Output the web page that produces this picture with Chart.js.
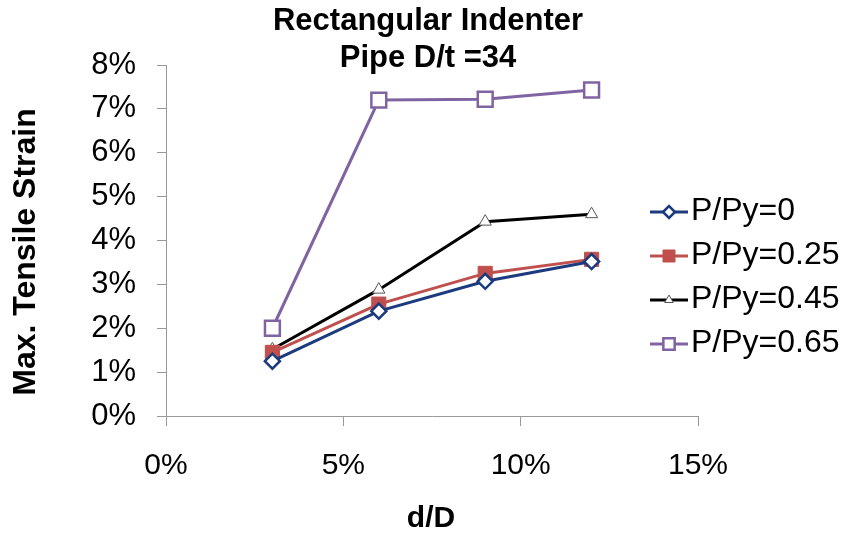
<!DOCTYPE html>
<html>
<head>
<meta charset="utf-8">
<script src="https://cdn.jsdelivr.net/npm/chart.js@4/dist/chart.umd.min.js"></script>
<style>
  html, body { margin: 0; padding: 0; background: #fff; }
  #wrap { width: 854px; height: 537px; position: relative; }
</style>
</head>
<body>
<div id="wrap"><canvas id="chart"></canvas></div>
<script>
const dOverD = [0.03, 0.06, 0.09, 0.12];
const seriesNames = ['P/Py=0', 'P/Py=0.25', 'P/Py=0.45', 'P/Py=0.65'];
const strain0 = [0.0125, 0.0239, 0.0307, 0.0352];
const strain025 = [0.0145, 0.0255, 0.0325, 0.0357];
const strain045 = [0.0152, 0.0288, 0.0443, 0.0460];
const strain065 = [0.0200, 0.0720, 0.0722, 0.0743];
const titleLines = ['Rectangular Indenter', 'Pipe D/t =34'];
const xTitle = 'd/D';
const yTitle = 'Max. Tensile Strain';

const FONT = '"Liberation Sans", Arial, sans-serif';

const styles = [
  { color: '#1c3a7e', fill: '#ffffff', shape: 'rectRot', r: 7.5, lr: 6, bw: 2.5 },
  { color: '#c0504d', fill: '#c0504d', shape: 'rect', r: 10, lr: 8.5, bw: 1 },
  { color: '#000000', fill: '#ffffff', shape: 'triangle', r: 7, lr: 5, bw: 1, pointBorder: '#555' },
  { color: '#8064a2', fill: '#ffffff', shape: 'rect', r: 10.5, lr: 8, bw: 2.5 }
];
const allStrains = [strain0, strain025, strain045, strain065];

const datasets = allStrains.map((vals, i) => {
  const s = styles[i];
  return {
    label: seriesNames[i],
    data: vals.map((v, j) => ({ x: dOverD[j], y: v })),
    borderColor: s.color,
    borderWidth: 3,
    pointStyle: s.shape,
    pointRadius: s.r,
    pointBackgroundColor: s.fill,
    pointBorderColor: s.pointBorder || s.color,
    pointBorderWidth: s.bw,
    tension: 0
  };
});

// chart title, axis titles and legend are painted by hand
const decorations = {
  id: 'decorations',
  afterDraw(chart) {
    const ctx = chart.ctx;
    ctx.save();
    ctx.fillStyle = '#000';
    ctx.textAlign = 'center';
    ctx.textBaseline = 'middle';
    ctx.font = 'bold 31px ' + FONT;
    ctx.fillText(titleLines[0], 428, 21);
    ctx.fillText(titleLines[1], 428, 58);

    ctx.font = 'bold 30px ' + FONT;
    ctx.fillText(xTitle, 431, 519);

    ctx.save();
    ctx.translate(26, 252);
    ctx.rotate(-Math.PI / 2);
    ctx.font = 'bold 32px ' + FONT;
    ctx.fillText(yTitle, 0, 0);
    ctx.restore();

    ctx.font = '32px ' + FONT;
    ctx.textAlign = 'left';
    seriesNames.forEach((name, i) => {
      const s = styles[i];
      const y = 212 + i * 44;
      ctx.strokeStyle = s.color;
      ctx.lineWidth = 3;
      ctx.beginPath();
      ctx.moveTo(650, y);
      ctx.lineTo(688, y);
      ctx.stroke();
      ctx.fillStyle = s.fill;
      ctx.strokeStyle = s.pointBorder || s.color;
      ctx.lineWidth = s.bw;
      Chart.helpers.drawPoint(ctx, { pointStyle: s.shape, radius: s.lr, rotation: 0, borderWidth: s.bw }, 669, y);
      ctx.fillStyle = '#000';
      ctx.fillText(name, 691, y - 1);
    });
    ctx.restore();
  }
};

const tickFont = { family: FONT, size: 30 };

new Chart(document.getElementById('chart'), {
  type: 'line',
  data: { datasets },
  options: {
    responsive: true,
    maintainAspectRatio: false,
    animation: false,
    layout: { padding: { left: 0, right: 156, top: 65, bottom: 0 } },
    plugins: { legend: { display: false }, title: { display: false }, tooltip: { enabled: false } },
    scales: {
      x: {
        type: 'linear',
        min: 0,
        max: 0.15,
        ticks: {
          stepSize: 0.05,
          color: '#000',
          font: tickFont,
          padding: 22,
          callback: v => Math.round(v * 100) + '%'
        },
        grid: { drawOnChartArea: false, color: '#999', tickLength: 10 },
        border: { color: '#999', width: 1 },
        afterFit(scale) { scale.height = 121; }
      },
      y: {
        min: 0,
        max: 0.08,
        ticks: {
          stepSize: 0.01,
          color: '#000',
          font: { family: FONT, size: 31 },
          padding: 21,
          callback: v => Math.round(v * 100) + '%'
        },
        grid: { drawOnChartArea: false, color: '#999', tickLength: 9 },
        border: { color: '#999', width: 1 },
        afterFit(scale) { scale.width = 166; }
      }
    }
  },
  plugins: [decorations]
});
</script>
</body>
</html>
